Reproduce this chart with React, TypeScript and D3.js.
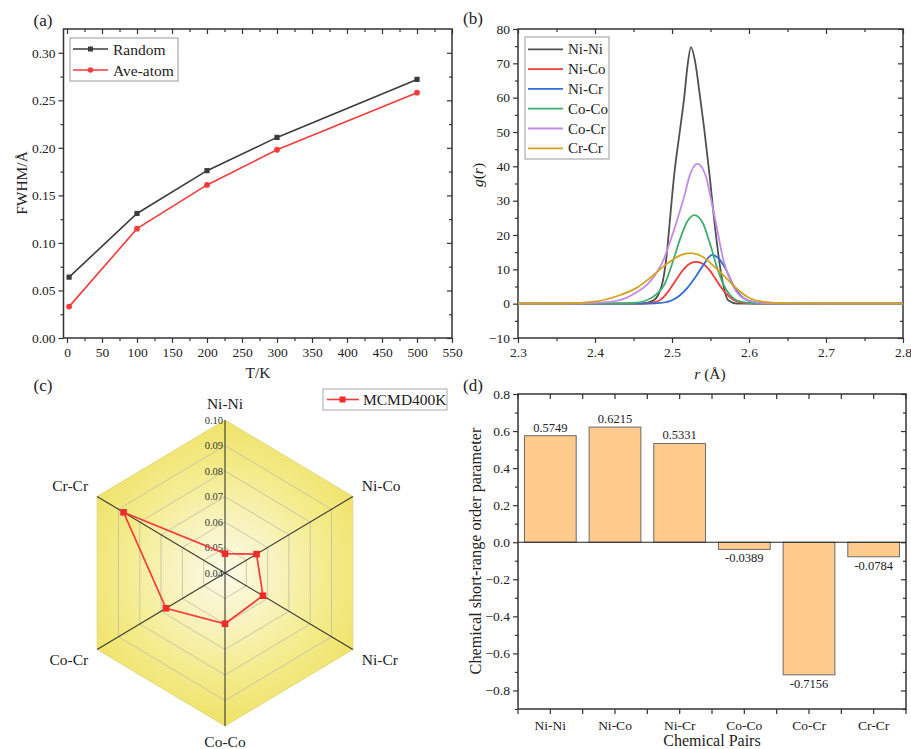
import { useRef, useEffect } from 'react';
import * as d3 from 'd3';

const W = 911;
const H = 749;
const FONT = '"Liberation Serif", "Times New Roman", serif';

// (a) FWHM vs temperature
const tempK = [3, 100, 200, 300, 500];
const fwhmRandom = [0.064, 0.131, 0.176, 0.211, 0.272];
const fwhmAveAtom = [0.033, 0.115, 0.161, 0.198, 0.258];

// (b) partial g(r), points as [r, g]
const grNiNi = [
  [2.3, 0], [2.46, 0], [2.475, 0.8], [2.483, 3.0], [2.488, 6.5], [2.493, 14.0], [2.4965, 22.4],
  [2.5026, 37.0], [2.5104, 50.6], [2.516, 60.3], [2.52, 69.0], [2.5247, 74.7], [2.53, 70.5],
  [2.5364, 60.3], [2.542, 50.6], [2.549, 37.0], [2.5558, 22.4], [2.5645, 7.9], [2.573, 1.0],
  [2.585, 0], [2.8, 0],
];
const grNiCo = [
  [2.3, 0], [2.46, 0], [2.475, 0.3], [2.485, 1.1], [2.495, 3.5], [2.505, 6.8], [2.515, 10.0],
  [2.525, 11.9], [2.532, 12.2], [2.54, 11.6], [2.55, 9.4], [2.56, 6.0], [2.57, 3.0], [2.58, 1.1],
  [2.59, 0.3], [2.61, 0], [2.8, 0],
];
const grNiCr = [
  [2.3, 0], [2.47, 0], [2.485, 0.2], [2.5, 1.0], [2.51, 2.4], [2.52, 4.6], [2.53, 7.6],
  [2.54, 11.0], [2.552, 14.2], [2.56, 13.3], [2.57, 10.0], [2.58, 5.2], [2.59, 2.2], [2.6, 0.8],
  [2.62, 0.1], [2.64, 0], [2.8, 0],
];
const grCoCo = [
  [2.3, 0], [2.43, 0], [2.45, 0.2], [2.467, 1.0], [2.48, 2.8], [2.49, 5.5], [2.5, 11.5],
  [2.51, 18.5], [2.52, 24.0], [2.529, 25.8], [2.54, 23.5], [2.55, 17.0], [2.56, 9.5], [2.57, 4.2],
  [2.58, 1.5], [2.59, 0.5], [2.61, 0.05], [2.63, 0], [2.8, 0],
];
const grCoCr = [
  [2.3, 0], [2.38, 0.05], [2.42, 0.5], [2.44, 1.6], [2.454, 3.3], [2.468, 5.6], [2.4888, 12.7],
  [2.5039, 22.4], [2.517, 32.2], [2.5225, 37.0], [2.533, 40.7], [2.5442, 37.0], [2.549, 32.2],
  [2.558, 22.4], [2.5667, 12.7], [2.5796, 4.95], [2.597, 1.07], [2.62, 0.1], [2.65, 0], [2.8, 0],
];
const grCrCr = [
  [2.3, 0], [2.36, 0.05], [2.4, 0.6], [2.43, 2.3], [2.454, 4.6], [2.472, 7.6], [2.49, 11.0],
  [2.51, 14.0], [2.524, 14.7], [2.54, 13.6], [2.555, 10.8], [2.57, 7.6], [2.585, 4.2], [2.6, 1.7],
  [2.62, 0.5], [2.65, 0.1], [2.7, 0], [2.8, 0],
];
const grNames = ['Ni-Ni', 'Ni-Co', 'Ni-Cr', 'Co-Co', 'Co-Cr', 'Cr-Cr'];
const grData = [grNiNi, grNiCo, grNiCr, grCoCo, grCoCr, grCrCr];
const grColors = ['#505050', '#f23c3c', '#2f6fd8', '#3fae6c', '#c48ae8', '#d6a31a'];

// (c) radar
const radarPairs = ['Ni-Ni', 'Ni-Co', 'Ni-Cr', 'Co-Co', 'Co-Cr', 'Cr-Cr'];
const radarValues = [0.0476, 0.0548, 0.0578, 0.0599, 0.0677, 0.0876];
const radarRings = [0.04, 0.05, 0.06, 0.07, 0.08, 0.09, 0.1];

// (d) chemical short-range order
const sroPairs = ['Ni-Ni', 'Ni-Co', 'Ni-Cr', 'Co-Co', 'Co-Cr', 'Cr-Cr'];
const sroValues = [0.5749, 0.6215, 0.5331, -0.0389, -0.7156, -0.0784];

const steps = (a: number, b: number, s: number) =>
  d3.range(0, Math.round((b - a) / s) + 1).map(i => +(a + i * s).toFixed(4));

function styleAxis(sel: any) {
  sel.select('.domain').remove();
  sel.selectAll('line').attr('stroke', '#333').attr('stroke-width', 1.2);
  sel.selectAll('text').attr('font-family', FONT).attr('font-size', 13.5).attr('fill', '#222');
}

// box with Origin-style ticks: out on bottom/left, in on top/right
function drawFrame(g: any, x: any, y: any, o: any) {
  const [x0, x1] = x.range();
  const [y0, y1] = y.range();
  const bottom = (vals: number[], size: number, fmt: any) =>
    g.append('g').attr('transform', `translate(0,${y0})`)
      .call(d3.axisBottom(x).tickValues(vals).tickSize(size).tickPadding(4).tickFormat(fmt)).call(styleAxis);
  const left = (vals: number[], size: number, fmt: any) =>
    g.append('g').attr('transform', `translate(${x0},0)`)
      .call(d3.axisLeft(y).tickValues(vals).tickSize(size).tickPadding(3).tickFormat(fmt)).call(styleAxis);
  const none = () => '';
  if (o.xMajor) {
    bottom(o.xMajor, 5, o.xFmt);
    bottom(o.xMinor, 3, none);
    g.append('g').attr('transform', `translate(0,${y1})`)
      .call(d3.axisTop(x).tickValues(o.xMajor).tickSize(-5).tickFormat(none)).call(styleAxis);
    g.append('g').attr('transform', `translate(0,${y1})`)
      .call(d3.axisTop(x).tickValues(o.xMinor).tickSize(-3).tickFormat(none)).call(styleAxis);
  }
  left(o.yMajor, 5, o.yFmt);
  left(o.yMinor, 3, none);
  g.append('g').attr('transform', `translate(${x1},0)`)
    .call(d3.axisRight(y).tickValues(o.yMajor).tickSize(-5).tickFormat(none)).call(styleAxis);
  g.append('g').attr('transform', `translate(${x1},0)`)
    .call(d3.axisRight(y).tickValues(o.yMinor).tickSize(-3).tickFormat(none)).call(styleAxis);
  g.append('rect')
    .attr('x', x0).attr('y', y1).attr('width', x1 - x0).attr('height', y0 - y1)
    .attr('fill', 'none').attr('stroke', '#333').attr('stroke-width', 1.5);
}

function label(g: any, text: string, x: number, y: number, size: number, opts: any = {}) {
  const t = g.append('text')
    .attr('x', x).attr('y', y)
    .attr('font-family', FONT).attr('font-size', size)
    .attr('fill', opts.fill || '#222')
    .attr('text-anchor', opts.anchor || 'middle')
    .text(text);
  if (opts.rotate) t.attr('transform', `rotate(-90,${x},${y})`);
  return t;
}

export default function App() {
  const svgRef = useRef<SVGSVGElement>(null);

  useEffect(() => {
    if (!svgRef.current) return;
    const svg = d3.select(svgRef.current);
    svg.selectAll('*').remove();
    const root = svg.append('g');

    // ---------- (a) ----------
    {
      const g = root.append('g');
      const x = d3.scaleLinear().domain([-5, 550]).range([63.5, 452]);
      const y = d3.scaleLinear().domain([0, 0.325]).range([338, 29]);
      drawFrame(g, x, y, {
        xMajor: steps(0, 550, 50), xMinor: steps(25, 525, 50), xFmt: d3.format('d'),
        yMajor: steps(0, 0.3, 0.05), yMinor: steps(0.025, 0.275, 0.05), yFmt: d3.format('.2f'),
      });
      const line = d3.line<number>().x((_, i) => x(tempK[i])).y(d => y(d));
      g.append('path').datum(fwhmRandom).attr('d', line).attr('fill', 'none')
        .attr('stroke', '#3c3c3c').attr('stroke-width', 1.6);
      g.append('path').datum(fwhmAveAtom).attr('d', line).attr('fill', 'none')
        .attr('stroke', '#f53b3b').attr('stroke-width', 1.6);
      g.selectAll('.mr').data(fwhmRandom).join('rect')
        .attr('x', (_, i) => x(tempK[i]) - 2.6).attr('y', d => y(d) - 2.6)
        .attr('width', 5.2).attr('height', 5.2).attr('fill', '#3c3c3c');
      g.selectAll('.ma').data(fwhmAveAtom).join('circle')
        .attr('cx', (_, i) => x(tempK[i])).attr('cy', d => y(d)).attr('r', 2.9).attr('fill', '#f53b3b');

      // legend
      g.append('rect').attr('x', 70).attr('y', 38).attr('width', 108).attr('height', 43)
        .attr('fill', '#fff').attr('stroke', '#999').attr('stroke-width', 1);
      g.append('line').attr('x1', 73).attr('x2', 108).attr('y1', 49).attr('y2', 49)
        .attr('stroke', '#3c3c3c').attr('stroke-width', 1.6);
      g.append('rect').attr('x', 88).attr('y', 46.5).attr('width', 5).attr('height', 5).attr('fill', '#3c3c3c');
      g.append('line').attr('x1', 73).attr('x2', 108).attr('y1', 70).attr('y2', 70)
        .attr('stroke', '#f53b3b').attr('stroke-width', 1.6);
      g.append('circle').attr('cx', 90.5).attr('cy', 70).attr('r', 2.8).attr('fill', '#f53b3b');
      label(g, 'Random', 113, 54.5, 15.5, { anchor: 'start' });
      label(g, 'Ave-atom', 113, 75.5, 15.5, { anchor: 'start' });

      label(g, 'FWHM/\u00c5', 22, 183, 15.5, { rotate: true }).attr('dy', '0.35em');
      label(g, 'T/K', 258, 378, 15.5);
      label(g, '(a)', 43, 26, 17);
    }

    // ---------- (b) ----------
    {
      const g = root.append('g');
      const x = d3.scaleLinear().domain([2.3, 2.8]).range([518, 903]);
      const y = d3.scaleLinear().domain([-10, 80]).range([338, 29]);
      drawFrame(g, x, y, {
        xMajor: steps(2.3, 2.8, 0.1), xMinor: steps(2.35, 2.75, 0.1), xFmt: d3.format('.1f'),
        yMajor: steps(-10, 80, 10), yMinor: steps(-5, 75, 10), yFmt: d3.format('d'),
      });
      const line = d3.line<number[]>().x(d => x(d[0])).y(d => y(d[1])).curve(d3.curveMonotoneX);
      grData.forEach((pts, i) => {
        g.append('path').datum(pts).attr('d', line).attr('fill', 'none')
          .attr('stroke', grColors[i]).attr('stroke-width', 1.8);
      });

      g.append('rect').attr('x', 525).attr('y', 37).attr('width', 84).attr('height', 122)
        .attr('fill', '#fff').attr('stroke', '#999').attr('stroke-width', 1);
      grNames.forEach((n, i) => {
        const yy = 49.3 + i * 19.8;
        g.append('line').attr('x1', 528).attr('x2', 563).attr('y1', yy).attr('y2', yy)
          .attr('stroke', grColors[i]).attr('stroke-width', 1.8);
        label(g, n, 568, yy + 5, 15, { anchor: 'start' });
      });

      const yl = g.append('text').attr('x', 478).attr('y', 175).attr('dy', '0.35em')
        .attr('font-family', FONT).attr('font-size', 15.5).attr('fill', '#222')
        .attr('text-anchor', 'middle').attr('transform', 'rotate(-90,478,175)');
      yl.append('tspan').attr('font-style', 'italic').text('g');
      yl.append('tspan').text('(');
      yl.append('tspan').attr('font-style', 'italic').text('r');
      yl.append('tspan').text(')');
      const xl = g.append('text').attr('x', 710).attr('y', 379)
        .attr('font-family', FONT).attr('font-size', 15.5).attr('fill', '#222').attr('text-anchor', 'middle');
      xl.append('tspan').attr('font-style', 'italic').text('r');
      xl.append('tspan').text(' (\u00c5)');
      label(g, '(b)', 473, 24, 17);
    }

    // ---------- (c) ----------
    {
      const g = root.append('g');
      const cx = 225;
      const cy = 573;
      const kx = 0.965;
      const r = d3.scaleLinear().domain([0.04, 0.1]).range([0, 153]);
      const ang = d3.scalePoint<string>().domain(radarPairs).range([0, (Math.PI * 5) / 3]);
      const pt = (p: string, v: number): [number, number] => {
        const a = ang(p) as number;
        return [cx + kx * r(v) * Math.sin(a), cy - r(v) * Math.cos(a)];
      };
      const hex = (v: number) => radarPairs.map(p => pt(p, v));
      const closed = d3.line().curve(d3.curveLinearClosed);

      const defs = svg.append('defs');
      const grad = defs.append('radialGradient').attr('id', 'radarFill')
        .attr('gradientUnits', 'userSpaceOnUse').attr('cx', cx).attr('cy', cy).attr('r', r(0.1));
      grad.append('stop').attr('offset', '0%').attr('stop-color', '#fbfae6');
      grad.append('stop').attr('offset', '35%').attr('stop-color', '#f8f3be');
      grad.append('stop').attr('offset', '65%').attr('stop-color', '#f4ec8e');
      grad.append('stop').attr('offset', '100%').attr('stop-color', '#efe268');

      g.append('path').attr('d', closed(hex(0.1))).attr('fill', 'url(#radarFill)')
        .attr('stroke', '#dcd47a').attr('stroke-width', 0.8);
      radarRings.slice(1, -1).forEach(v => {
        g.append('path').attr('d', closed(hex(v))).attr('fill', 'none')
          .attr('stroke', '#c6c3a4').attr('stroke-width', 0.9);
      });
      radarPairs.forEach(p => {
        const [x2, y2] = pt(p, 0.1);
        g.append('line').attr('x1', cx).attr('y1', cy).attr('x2', x2).attr('y2', y2)
          .attr('stroke', '#3a3a30').attr('stroke-width', 1.1);
      });
      radarRings.forEach(v => {
        label(g, v.toFixed(2), cx - 2, cy - r(v) + 3.5, 10.5, { anchor: 'end', fill: '#333' });
      });

      const pts = radarPairs.map((p, i) => pt(p, radarValues[i]));
      g.append('path').attr('d', closed(pts)).attr('fill', 'none')
        .attr('stroke', '#f53b3b').attr('stroke-width', 1.7);
      g.selectAll('.rm').data(pts).join('rect')
        .attr('x', d => d[0] - 3.3).attr('y', d => d[1] - 3.3)
        .attr('width', 6.6).attr('height', 6.6).attr('fill', '#f22a2a');

      radarPairs.forEach(p => {
        const a = ang(p) as number;
        const [vx, vy] = pt(p, 0.1);
        const s = Math.sin(a);
        const c = Math.cos(a);
        if (Math.abs(s) < 0.1) {
          label(g, p, vx, vy - c * 16, 15.5).attr('dy', '0.35em');
        } else {
          label(g, p, vx + (s > 0 ? 9 : -9), vy - c * 21, 15.5, { anchor: s > 0 ? 'start' : 'end' })
            .attr('dy', '0.35em');
        }
      });

      // legend
      g.append('rect').attr('x', 323).attr('y', 389).attr('width', 124).attr('height', 21)
        .attr('fill', '#fff').attr('stroke', '#aaa').attr('stroke-width', 1);
      g.append('line').attr('x1', 327).attr('x2', 359).attr('y1', 399.5).attr('y2', 399.5)
        .attr('stroke', '#f53b3b').attr('stroke-width', 1.6);
      g.append('rect').attr('x', 339.5).attr('y', 396.5).attr('width', 6).attr('height', 6).attr('fill', '#f22a2a');
      label(g, 'MCMD400K', 363, 405, 15.5, { anchor: 'start' });
      label(g, '(c)', 43, 391, 17);
    }

    // ---------- (d) ----------
    {
      const g = root.append('g');
      const x = d3.scaleBand<string>().domain(sroPairs).range([518, 906]).paddingInner(0.2).paddingOuter(0.1);
      const y = d3.scaleLinear().domain([-0.9, 0.8]).range([709, 394]);
      drawFrame(g, x, y, {
        yMajor: steps(-0.8, 0.8, 0.2), yMinor: steps(-0.9, 0.7, 0.2), yFmt: d3.format('.1f'),
      });
      // category ticks at centres and at boundaries
      const half = x.step() / 2;
      const centres = sroPairs.map(p => (x(p) as number) + x.bandwidth() / 2);
      const tickX = centres.flatMap(c => [c - half, c]).concat([centres[centres.length - 1] + half]);
      tickX.forEach(tx => {
        g.append('line').attr('x1', tx).attr('x2', tx).attr('y1', 709).attr('y2', 714)
          .attr('stroke', '#333').attr('stroke-width', 1.2);
        g.append('line').attr('x1', tx).attr('x2', tx).attr('y1', 394).attr('y2', 399)
          .attr('stroke', '#333').attr('stroke-width', 1.2);
      });
      sroPairs.forEach((p, i) => label(g, p, centres[i], 730, 13.5));

      g.selectAll('.bar').data(sroValues).join('rect')
        .attr('x', (_, i) => x(sroPairs[i]) as number)
        .attr('width', x.bandwidth())
        .attr('y', d => y(Math.max(0, d)))
        .attr('height', d => Math.abs(y(d) - y(0)))
        .attr('fill', '#fecb8d').attr('stroke', '#6a6a6a').attr('stroke-width', 1);
      g.append('line').attr('x1', 518).attr('x2', 906).attr('y1', y(0)).attr('y2', y(0))
        .attr('stroke', '#222').attr('stroke-width', 1.2);
      sroValues.forEach((v, i) => {
        const ty = v >= 0 ? y(v) - 4 : y(v) + 13;
        label(g, v.toFixed(4), centres[i], ty, 12.5);
      });

      label(g, 'Chemical short-range order parameter', 475, 551, 16.2, { rotate: true }).attr('dy', '0.35em');
      label(g, 'Chemical Pairs', 712, 746, 16);
      label(g, '(d)', 473, 391, 17);
    }
  }, []);

  return (
    <svg
      ref={svgRef}
      width={W}
      height={H}
      viewBox={`0 0 ${W} ${H}`}
      style={{ position: 'absolute', left: 0, top: 0, background: '#fff' }}
    />
  );
}
